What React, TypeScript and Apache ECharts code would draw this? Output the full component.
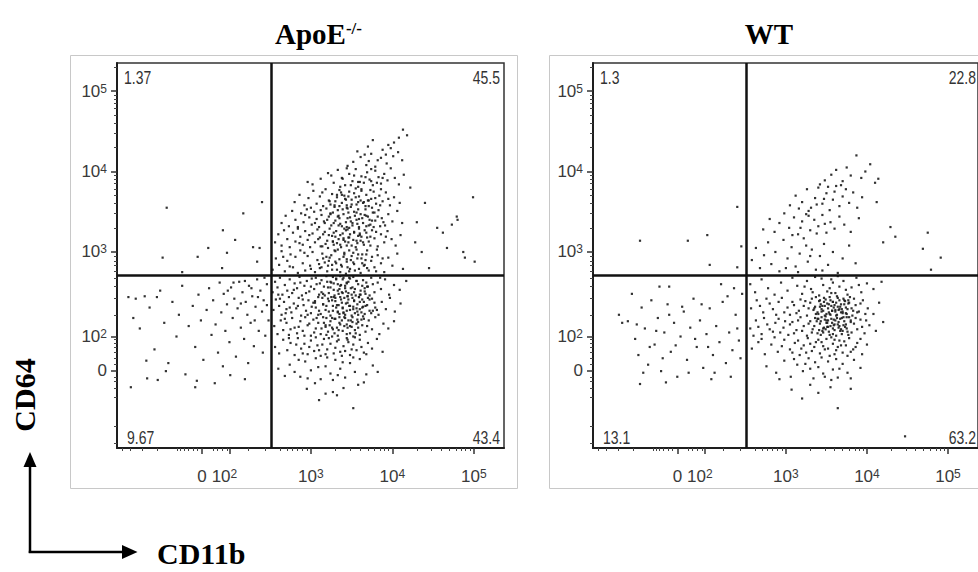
import React, { useEffect, useRef } from "react";
import * as echarts from "echarts";

// ---- axis scale (display units: decades of fluorescence, biexponential near zero) ----
const X_MIN = 0.62;
const X_MAX = 5.37;
const Y_MIN = 0.565;
const Y_MAX = 5.348;

const xTickValues = [1.663, 2, 3, 4, 5];
const xTickLabels = ["0", "10^2", "10^3", "10^4", "10^5"];
const yTickValues = [1.522, 1.944, 3, 4, 5];
const yTickLabels = ["0", "10^2", "10^3", "10^4", "10^5"];
const xMinorTicks = [0.68, 0.78, 0.93, 1.12, 1.36, 1.4, 1.44, 1.49, 1.55, 1.6, 1.8, 1.85, 1.91, 1.97, 2.23, 2.44, 2.62, 2.71, 2.77, 2.83, 2.89, 2.95, 3.3, 3.48, 3.6, 3.7, 3.78, 3.85, 3.9, 3.95, 4.3, 4.48, 4.6, 4.7, 4.78, 4.85, 4.9, 4.95];
const yMinorTicks = [0.63, 0.83, 1.2, 1.31, 1.39, 1.45, 1.6, 1.68, 1.76, 1.82, 1.87, 1.91, 2.22, 2.43, 2.57, 2.68, 2.76, 2.83, 2.89, 2.95, 3.3, 3.48, 3.6, 3.7, 3.78, 3.85, 3.9, 3.95, 4.3, 4.48, 4.6, 4.7, 4.78, 4.85, 4.9, 4.95, 5.3];

// ---- gates (CD11b, CD64) ----
const apoeGate = [2.509, 2.714];
const wtGate = [2.509, 2.714];

// ---- titles / quadrant percentages (UL, UR, LL, LR) ----
const panelTitles = ["ApoE", "WT"];
const apoeQuadPct = ["1.37", "45.5", "9.67", "43.4"];
const wtQuadPct = ["1.3", "22.8", "13.1", "63.2"];
const axisNames = ["CD64", "CD11b"];

// ---- ApoE-/- events (x = CD11b, y = CD64), flat pairs ----
const apoeUL = [1.23,3.55, 2.17,3.48, 2.40,3.62, 1.92,3.27, 2.07,3.15, 1.74,3.05, 1.18,2.93, 1.61,2.94, 1.97,2.99, 2.29,3.06, 2.34,2.88, 2.37,3.05, 1.91,2.80, 1.42,2.75];
const apoeUR = [
  3.76,4.39, 4.13,4.52, 4.08,4.42, 3.95,4.33, 4.02,4.36, 3.70,4.31, 4.18,4.45,
  3.52,4.12, 3.61,4.18, 3.68,4.08, 3.74,4.22, 3.82,4.14, 3.88,4.27, 3.93,4.10, 4.01,4.19, 4.07,4.24, 3.45,4.07, 3.57,4.25, 3.79,4.06, 3.86,4.17, 3.98,4.29, 4.12,4.14, 3.66,4.21, 3.92,4.21, 3.71,4.13,
  3.02,3.84, 3.12,3.91, 3.21,3.98, 3.28,3.86, 3.33,4.02, 3.38,3.92, 3.42,3.83, 3.47,3.97, 3.51,3.88, 3.55,4.03, 3.58,3.81, 3.62,3.94, 3.65,3.86, 3.69,3.99, 3.72,3.90, 3.76,3.83, 3.79,4.01, 3.83,3.93, 3.86,3.85, 3.90,3.97, 3.94,3.89, 3.98,4.04, 4.03,3.92, 4.08,3.84, 4.14,3.96, 3.36,3.81, 3.44,4.04, 3.53,3.95, 3.60,3.87, 3.67,3.93, 3.74,4.03, 3.81,3.86, 3.88,3.92, 3.25,3.95, 2.96,3.87,
  2.80,3.62, 2.86,3.71, 2.92,3.58, 2.97,3.67, 3.03,3.76, 3.07,3.60, 3.11,3.69, 3.15,3.57, 3.18,3.78, 3.22,3.64, 3.26,3.72, 3.29,3.56, 3.32,3.68, 3.35,3.77, 3.38,3.61, 3.41,3.70, 3.44,3.58, 3.47,3.75, 3.50,3.65, 3.53,3.73, 3.56,3.59, 3.59,3.69, 3.62,3.78, 3.65,3.62, 3.68,3.71, 3.71,3.57, 3.74,3.66, 3.77,3.75, 3.80,3.60, 3.84,3.70, 3.88,3.63, 3.92,3.74, 3.97,3.58, 4.02,3.68, 4.09,3.61, 3.30,3.63, 3.37,3.74, 3.43,3.65, 3.49,3.56, 3.55,3.79, 3.61,3.64, 3.67,3.57, 3.73,3.77, 3.79,3.67, 3.86,3.78, 3.24,3.59, 3.14,3.74, 3.46,3.69, 3.58,3.62, 3.70,3.64, 3.95,3.66, 3.00,3.55,
  2.64,3.36, 2.69,3.45, 2.73,3.32, 2.77,3.51, 2.81,3.40, 2.84,3.31, 2.88,3.48, 2.91,3.37, 2.95,3.53, 2.98,3.43, 3.01,3.34, 3.04,3.50, 3.07,3.41, 3.10,3.31, 3.13,3.46, 3.16,3.38, 3.19,3.54, 3.22,3.44, 3.25,3.33, 3.27,3.49, 3.30,3.39, 3.33,3.52, 3.35,3.42, 3.38,3.32, 3.40,3.47, 3.43,3.37, 3.45,3.54, 3.48,3.43, 3.51,3.33, 3.53,3.50, 3.56,3.40, 3.59,3.31, 3.61,3.47, 3.64,3.36, 3.67,3.53, 3.70,3.44, 3.73,3.34, 3.76,3.49, 3.79,3.39, 3.83,3.52, 3.87,3.42, 3.91,3.33, 3.95,3.47, 4.00,3.38, 4.06,3.51, 4.12,3.36, 3.28,3.36, 3.34,3.45, 3.39,3.53, 3.44,3.31, 3.49,3.38, 3.54,3.45, 3.58,3.53, 3.63,3.42, 3.68,3.32, 3.72,3.40, 3.77,3.31, 3.82,3.44, 3.89,3.37, 3.20,3.40, 3.12,3.52, 3.05,3.36, 2.93,3.46, 3.36,3.35, 3.46,3.49, 3.57,3.35, 3.66,3.46, 3.75,3.55, 3.85,3.32, 3.24,3.47,
  2.56,3.12, 2.60,3.22, 2.64,3.08, 2.67,3.27, 2.71,3.16, 2.74,3.06, 2.78,3.24, 2.81,3.13, 2.84,3.29, 2.87,3.19, 2.90,3.09, 2.93,3.26, 2.96,3.15, 2.99,3.06, 3.02,3.23, 3.05,3.12, 3.08,3.28, 3.11,3.18, 3.14,3.07, 3.17,3.25, 3.20,3.14, 3.23,3.29, 3.26,3.20, 3.28,3.09, 3.31,3.26, 3.34,3.16, 3.37,3.06, 3.39,3.23, 3.42,3.13, 3.45,3.28, 3.47,3.18, 3.50,3.08, 3.53,3.25, 3.56,3.14, 3.59,3.29, 3.62,3.19, 3.65,3.09, 3.68,3.24, 3.71,3.13, 3.75,3.27, 3.78,3.17, 3.82,3.07, 3.86,3.22, 3.90,3.12, 3.94,3.26, 3.99,3.16, 4.04,3.08, 4.10,3.21, 3.32,3.11, 3.36,3.21, 3.41,3.29, 3.44,3.08, 3.48,3.22, 3.52,3.15, 3.55,3.06, 3.60,3.23, 3.64,3.12, 3.69,3.18, 3.73,3.08, 3.80,3.25, 3.18,3.10, 3.22,3.21, 3.27,3.13, 3.30,3.19, 3.40,3.17, 3.58,3.20, 3.66,3.27, 3.92,3.19, 2.98,3.21, 3.09,3.16, 3.15,3.22, 2.86,3.11, 3.46,3.12,
  2.53,2.78, 2.57,2.92, 2.61,2.84, 2.64,3.01, 2.68,2.76, 2.71,2.89, 2.75,2.97, 2.78,2.81, 2.81,2.94, 2.84,2.74, 2.87,3.02, 2.90,2.86, 2.93,2.77, 2.96,2.95, 2.99,2.83, 3.02,3.00, 3.05,2.75, 3.08,2.90, 3.11,2.80, 3.14,2.98, 3.17,2.87, 3.20,2.76, 3.23,2.93, 3.26,2.84, 3.29,3.02, 3.32,2.78, 3.35,2.91, 3.38,2.82, 3.41,2.99, 3.44,2.88, 3.47,2.76, 3.50,2.95, 3.53,2.85, 3.56,3.03, 3.59,2.79, 3.62,2.92, 3.65,2.83, 3.68,2.97, 3.71,2.77, 3.74,2.89, 3.78,2.81, 3.82,2.96, 3.86,2.86, 3.90,2.75, 3.95,2.93, 4.00,2.83, 4.06,2.98, 4.13,2.79, 3.25,2.96, 3.30,2.88, 3.36,2.75, 3.40,2.94, 3.45,2.81, 3.49,2.90, 3.54,2.77, 3.58,2.97, 3.63,2.86, 3.69,2.80, 3.75,2.94, 3.33,3.03, 3.21,2.83, 3.15,2.92, 3.00,2.79, 2.92,2.99, 2.74,2.82, 3.43,2.73, 3.52,2.99, 3.61,2.74, 3.67,2.90, 3.80,2.76, 3.88,2.92, 2.66,2.94, 3.10,2.85,
  4.99,3.68, 4.40,3.61, 4.79,3.44, 4.55,3.30, 4.62,3.24, 4.73,3.34, 4.67,3.05, 4.87,3.00, 5.01,2.88, 4.80,3.40, 4.89,2.93, 4.30,3.37, 4.36,3.00, 4.28,3.12, 4.45,2.80, 4.22,3.80,
];
const apoeURCore = [
  3.13,2.81, 3.47,3.02, 3.29,3.58, 3.71,3.33, 3.52,2.87, 3.38,3.71, 3.21,3.05, 3.64,3.61, 3.43,3.27, 3.57,2.92, 3.33,3.44, 3.78,3.49, 3.26,2.78, 3.49,3.83, 3.61,3.14, 3.17,3.36, 3.41,2.97, 3.69,3.02, 3.55,3.68, 3.36,3.09, 3.23,3.63, 3.74,3.88, 3.46,3.18, 3.31,2.86, 3.59,3.41, 3.44,3.55, 3.66,2.84, 3.28,3.24, 3.51,3.36, 3.39,3.91, 3.19,2.94, 3.73,3.19, 3.62,3.76, 3.48,2.79, 3.34,3.33, 3.57,3.11, 3.42,3.66, 3.27,3.13, 3.68,3.45, 3.53,3.24, 3.12,3.07, 3.85,3.58, 3.37,2.84, 3.45,3.42, 3.58,3.87, 3.24,3.48, 3.81,3.03, 3.50,3.59, 3.63,2.97, 3.32,3.71, 3.40,3.15, 3.56,3.49, 3.71,3.64, 3.22,2.89, 3.47,3.30, 3.35,3.57, 3.60,3.21, 3.44,2.91, 3.75,3.39, 3.30,3.01,
];
const apoeLL = [
  0.76,2.44, 0.85,2.42, 0.96,2.45, 1.11,2.44, 0.82,2.18, 0.90,2.05, 1.02,2.31, 1.08,1.79, 1.15,2.52, 1.20,2.12, 1.25,1.62, 1.30,2.38, 1.35,1.95, 1.38,2.22, 1.42,2.58, 1.46,1.48, 1.50,2.08, 1.55,2.33, 1.58,1.82, 1.62,2.47, 1.65,2.15, 1.68,1.66, 1.72,2.28, 1.75,2.55, 1.78,1.97, 1.80,2.40, 1.83,2.10, 1.86,1.75, 1.88,2.62, 1.90,2.25, 1.93,2.48, 1.95,2.02, 1.97,2.35, 2.00,1.88, 2.02,2.56, 2.04,2.18, 2.06,2.42, 2.08,1.70, 2.10,2.30, 2.12,2.63, 2.14,2.06, 2.16,2.50, 2.18,1.92, 2.20,2.38, 2.22,2.22, 2.24,2.58, 2.26,2.12, 2.28,2.45, 2.30,1.83, 2.32,2.32, 2.34,2.66, 2.36,2.02, 2.38,2.52, 2.40,2.26, 2.42,2.40, 2.44,1.96, 2.46,2.60, 2.48,2.15, 2.35,2.44, 2.27,2.55, 2.19,2.64, 2.43,2.68, 2.14,2.36, 2.05,2.62, 1.98,2.52, 2.31,2.15, 2.46,2.34, 0.98,1.65, 1.22,1.52, 1.60,1.40, 1.92,1.58, 2.23,1.62, 2.41,1.75,
  0.79,1.32, 0.99,1.43, 1.12,1.41, 1.58,1.32, 1.82,1.37, 2.19,1.42, 2.01,1.47,
];
const apoeLR = [
  2.53,2.50, 2.56,2.63, 2.59,2.56, 2.62,2.68, 2.65,2.47, 2.68,2.59, 2.71,2.52, 2.74,2.66, 2.77,2.49, 2.80,2.61, 2.83,2.55, 2.86,2.69, 2.89,2.46, 2.92,2.58, 2.95,2.64, 2.98,2.51, 3.01,2.67, 3.04,2.54, 3.07,2.60, 3.10,2.47, 3.13,2.65, 3.16,2.57, 3.19,2.70, 3.22,2.49, 3.25,2.62, 3.28,2.53, 3.31,2.66, 3.34,2.48, 3.37,2.59, 3.40,2.68, 3.43,2.51, 3.46,2.63, 3.49,2.55, 3.52,2.69, 3.55,2.46, 3.58,2.60, 3.61,2.52, 3.64,2.65, 3.67,2.48, 3.70,2.57, 3.74,2.68, 3.78,2.50, 3.82,2.62, 3.86,2.54, 3.91,2.66, 3.96,2.47, 4.02,2.59, 4.09,2.53, 4.17,2.64, 3.24,2.56, 3.29,2.46, 3.33,2.60, 3.36,2.70, 3.39,2.49, 3.42,2.58, 3.45,2.45, 3.48,2.67, 3.51,2.56, 3.56,2.64, 3.60,2.47, 3.63,2.58, 3.68,2.62, 3.72,2.46, 3.76,2.60, 3.15,2.48, 3.11,2.61, 3.06,2.68, 3.00,2.57, 2.94,2.49, 2.87,2.62, 2.79,2.53, 3.20,2.63, 3.27,2.69, 3.35,2.54, 3.44,2.61, 3.53,2.50, 3.66,2.55, 3.85,2.68, 2.60,2.47,
  2.54,2.28, 2.57,2.41, 2.61,2.33, 2.64,2.22, 2.67,2.38, 2.70,2.29, 2.73,2.44, 2.76,2.25, 2.79,2.36, 2.82,2.30, 2.85,2.43, 2.88,2.21, 2.91,2.34, 2.94,2.27, 2.97,2.40, 3.00,2.24, 3.03,2.37, 3.06,2.31, 3.09,2.44, 3.12,2.23, 3.15,2.35, 3.18,2.28, 3.21,2.42, 3.24,2.21, 3.27,2.33, 3.30,2.39, 3.33,2.26, 3.36,2.44, 3.39,2.30, 3.42,2.22, 3.45,2.37, 3.48,2.28, 3.51,2.43, 3.54,2.24, 3.57,2.35, 3.60,2.29, 3.63,2.41, 3.66,2.23, 3.69,2.34, 3.72,2.27, 3.75,2.42, 3.79,2.31, 3.83,2.22, 3.87,2.38, 3.92,2.29, 3.97,2.43, 4.03,2.26, 4.10,2.36, 3.26,2.40, 3.31,2.31, 3.35,2.23, 3.38,2.37, 3.41,2.43, 3.44,2.27, 3.47,2.33, 3.50,2.21, 3.53,2.39, 3.56,2.30, 3.59,2.44, 3.62,2.25, 3.65,2.38, 3.70,2.43, 3.74,2.24, 3.78,2.37, 3.19,2.33, 3.14,2.43, 3.10,2.27, 3.05,2.39, 3.01,2.32, 2.96,2.22, 2.90,2.41, 2.84,2.33, 2.74,2.31, 3.22,2.26, 3.28,2.44, 3.34,2.34, 3.40,2.25, 3.46,2.41, 3.52,2.32, 3.58,2.22, 3.64,2.32, 3.81,2.28, 2.62,2.42, 2.69,2.24,
  2.55,2.08, 2.59,1.98, 2.63,2.15, 2.66,2.03, 2.70,2.12, 2.73,1.97, 2.77,2.18, 2.80,2.06, 2.83,1.99, 2.87,2.14, 2.90,2.02, 2.93,2.19, 2.96,2.09, 3.00,1.96, 3.03,2.16, 3.06,2.05, 3.09,2.12, 3.12,1.98, 3.15,2.19, 3.18,2.07, 3.21,2.01, 3.24,2.14, 3.27,2.04, 3.30,2.17, 3.33,1.96, 3.36,2.10, 3.39,2.02, 3.42,2.18, 3.45,2.06, 3.48,1.99, 3.51,2.13, 3.54,2.03, 3.57,2.16, 3.60,1.97, 3.63,2.09, 3.67,2.01, 3.71,2.15, 3.75,2.04, 3.79,2.19, 3.84,1.98, 3.89,2.11, 3.95,2.05, 4.02,2.14, 3.23,2.09, 3.29,1.99, 3.35,2.19, 3.41,2.08, 3.46,2.15, 3.52,1.95, 3.58,2.06, 3.65,2.17, 3.19,1.97, 3.13,2.05, 3.07,2.18, 2.98,2.11, 2.92,1.96, 2.85,2.07, 2.75,2.04, 3.32,2.06, 3.38,2.15, 3.44,1.98, 3.50,2.07, 3.56,2.11, 3.69,2.08, 3.26,2.18, 3.04,2.00, 2.68,2.17, 3.16,2.12,
  2.56,1.82, 2.61,1.74, 2.66,1.91, 2.71,1.78, 2.75,1.87, 2.80,1.72, 2.84,1.93, 2.88,1.80, 2.92,1.86, 2.96,1.73, 3.00,1.90, 3.04,1.77, 3.08,1.84, 3.12,1.71, 3.16,1.92, 3.20,1.79, 3.24,1.86, 3.28,1.74, 3.32,1.89, 3.36,1.76, 3.40,1.83, 3.44,1.93, 3.48,1.72, 3.52,1.85, 3.56,1.78, 3.60,1.91, 3.65,1.75, 3.70,1.87, 3.75,1.80, 3.81,1.92, 3.88,1.76, 3.22,1.93, 3.30,1.81, 3.38,1.71, 3.46,1.88, 3.54,1.94, 3.62,1.82, 3.14,1.85, 3.06,1.94, 2.98,1.82, 2.90,1.74, 2.82,1.85, 3.34,1.91, 3.42,1.77, 3.18,1.73, 3.26,1.95, 3.50,1.79, 3.68,1.73, 2.73,1.93, 3.10,1.78,
  2.60,1.55, 2.68,1.46, 2.74,1.60, 2.80,1.51, 2.87,1.45, 2.93,1.64, 3.00,1.53, 3.06,1.68, 3.12,1.42, 3.18,1.58, 3.24,1.49, 3.30,1.66, 3.36,1.55, 3.42,1.44, 3.48,1.62, 3.54,1.51, 3.60,1.67, 3.68,1.48, 3.76,1.59, 3.82,1.51, 3.20,1.69, 3.27,1.41, 3.39,1.63, 3.09,1.57, 2.96,1.43, 3.52,1.69, 3.33,1.47, 2.85,1.66,
  3.52,1.06, 3.10,1.16, 3.32,1.22, 3.27,1.26, 3.58,1.35, 2.95,1.30, 3.05,1.37, 3.40,1.31, 3.18,1.24, 3.65,1.38,
];
const apoeLRCore = [
  3.37,2.41, 3.21,2.56, 3.52,2.29, 3.44,2.62, 3.29,2.17, 3.61,2.47, 3.15,2.35, 3.48,2.08, 3.33,2.52, 3.67,2.33, 3.41,2.19, 3.25,2.44, 3.56,2.64, 3.39,2.31, 3.09,2.22, 3.58,2.13, 3.46,2.49, 3.31,2.67, 3.72,2.41, 3.18,2.09, 3.43,2.36, 3.54,2.54, 3.27,2.27, 3.64,2.20, 3.36,2.58, 3.49,2.15, 3.22,2.39, 3.60,2.38, 3.34,2.03, 3.45,2.45, 3.13,2.50, 3.69,2.57, 3.40,2.24, 3.53,2.40, 3.28,2.61, 3.57,2.26, 3.32,2.34, 3.47,2.68, 3.19,2.18, 3.63,2.31, 3.38,2.50, 3.51,2.19, 3.26,2.06, 3.42,2.55, 3.59,2.44, 3.35,2.12, 3.76,2.27, 3.24,2.63, 3.48,2.33, 3.55,1.99, 3.30,2.43, 3.66,2.51, 3.44,2.10, 3.17,2.46, 3.39,2.66, 3.62,2.16, 3.50,2.47, 3.33,2.25, 3.05,2.37, 3.45,1.91,
];

// ---- WT events ----
const wtUL = [1.20,3.14, 1.79,3.14, 2.03,3.21, 2.45,3.07, 2.40,3.56, 2.06,2.84, 2.40,2.81];
const wtUR = [
  3.87,4.20, 4.04,4.09, 4.14,3.91, 3.93,3.92, 3.56,3.96, 4.10,3.86, 3.70,3.88, 3.62,4.02, 3.80,3.95, 3.48,3.89, 3.75,4.05, 3.98,4.00,
  3.05,3.58, 3.12,3.70, 3.20,3.62, 3.26,3.78, 3.31,3.55, 3.36,3.67, 3.40,3.80, 3.45,3.60, 3.50,3.73, 3.54,3.52, 3.58,3.65, 3.62,3.82, 3.66,3.57, 3.70,3.69, 3.74,3.78, 3.78,3.61, 3.83,3.74, 3.88,3.55, 3.94,3.68, 4.12,3.62, 3.42,3.84, 3.28,3.51, 3.47,3.66, 3.60,3.75, 3.16,3.54, 3.38,3.59, 3.52,3.81, 3.68,3.83,
  2.72,3.28, 2.80,3.41, 2.86,3.25, 2.92,3.36, 2.98,3.48, 3.04,3.30, 3.10,3.43, 3.15,3.22, 3.20,3.38, 3.25,3.47, 3.30,3.27, 3.35,3.40, 3.40,3.32, 3.45,3.46, 3.50,3.24, 3.55,3.37, 3.60,3.29, 3.66,3.44, 3.72,3.34, 3.80,3.25, 3.90,3.42, 3.08,3.21, 3.18,3.30, 3.28,3.45, 3.38,3.23, 3.48,3.35, 4.29,3.31, 4.75,3.24,
  2.58,2.90, 2.63,3.05, 2.68,2.80, 2.73,2.96, 2.78,3.12, 2.82,2.85, 2.87,3.00, 2.92,2.76, 2.97,3.15, 3.02,2.92, 3.07,3.06, 3.12,2.82, 3.17,2.98, 3.22,3.17, 3.27,2.88, 3.32,3.03, 3.37,2.78, 3.42,2.95, 3.47,3.10, 3.52,2.84, 3.58,3.00, 3.64,2.74, 3.70,2.92, 3.78,3.08, 3.86,2.86, 4.35,3.19, 4.20,3.12, 4.69,3.04, 4.91,2.93, 4.79,2.78, 3.00,2.80, 3.15,2.75, 3.30,2.95, 3.45,2.77, 3.25,3.08,
];
const wtLL = [
  0.94,2.22, 0.98,2.12, 1.05,2.14, 1.10,2.48, 1.14,1.92, 1.18,1.72, 1.22,2.31, 1.26,2.05, 1.30,1.60, 1.34,2.40, 1.38,1.85, 1.42,2.18, 1.46,1.52, 1.50,2.00, 1.54,2.35, 1.58,1.76, 1.62,2.12, 1.66,1.45, 1.70,1.95, 1.74,2.26, 1.78,1.66, 1.82,2.06, 1.86,2.42, 1.90,1.82, 1.94,2.15, 1.98,1.56, 2.02,1.98, 2.06,2.30, 2.10,1.72, 2.14,2.08, 2.18,1.88, 2.22,2.38, 2.26,1.62, 2.30,2.00, 2.34,1.78, 2.38,2.22, 2.42,1.90, 2.46,2.48, 2.44,1.68, 2.36,2.55, 2.28,2.45, 2.20,2.60, 2.12,1.50, 2.04,1.82, 1.96,2.35, 1.88,1.92, 1.80,1.50, 1.72,2.32, 1.64,1.84, 1.56,2.22, 1.48,1.68, 1.40,2.02, 1.32,1.82, 1.24,1.50, 1.16,2.10, 1.20,1.36, 1.52,1.38, 2.08,1.42, 2.32,1.45, 2.40,2.05, 1.44,2.57, 1.56,2.57,
];
const wtLR = [
  2.56,2.60, 2.62,2.50, 2.70,2.66, 2.78,2.55, 2.86,2.47, 2.94,2.62, 3.02,2.52, 3.08,2.68, 3.14,2.58, 3.20,2.48, 3.26,2.64, 3.31,2.54, 3.36,2.69, 3.41,2.46, 3.46,2.59, 3.51,2.51, 3.56,2.66, 3.61,2.49, 3.66,2.57, 3.71,2.64, 3.76,2.47, 3.81,2.56, 3.87,2.68, 3.93,2.50, 4.00,2.61, 4.08,2.54, 4.18,2.63, 3.44,2.67, 3.54,2.55, 3.64,2.70, 3.74,2.53, 3.33,2.50, 3.23,2.57, 3.58,2.62, 3.90,2.59,
  2.57,2.30, 2.64,2.40, 2.72,2.25, 2.80,2.36, 2.88,2.22, 2.95,2.43, 3.02,2.31, 3.08,2.38, 3.13,2.24, 3.18,2.41, 3.22,2.33, 3.26,2.21, 3.30,2.37, 3.34,2.28, 3.37,2.44, 3.40,2.23, 3.43,2.35, 3.46,2.27, 3.49,2.41, 3.52,2.30, 3.55,2.22, 3.58,2.38, 3.61,2.26, 3.64,2.43, 3.67,2.32, 3.70,2.24, 3.73,2.39, 3.76,2.29, 3.79,2.44, 3.82,2.21, 3.86,2.34, 3.90,2.26, 3.95,2.40, 4.01,2.30, 4.08,2.23, 4.15,2.37, 3.32,2.42, 3.36,2.32, 3.39,2.25, 3.42,2.40, 3.45,2.33, 3.48,2.21, 3.51,2.36, 3.54,2.44, 3.57,2.27, 3.60,2.34, 3.63,2.22, 3.66,2.40, 3.69,2.29, 3.72,2.35, 3.75,2.23, 3.78,2.37, 3.81,2.30, 3.84,2.42, 3.88,2.25, 3.53,2.25, 3.59,2.31, 3.65,2.28, 3.71,2.42, 3.62,2.37, 3.56,2.33, 3.47,2.38, 3.68,2.25, 3.74,2.31, 3.50,2.23, 3.44,2.29, 3.77,2.40, 3.28,2.30, 3.24,2.39, 3.16,2.27, 3.10,2.34, 2.98,2.25, 2.91,2.38, 2.84,2.29, 2.76,2.42, 2.68,2.33, 3.05,2.22, 3.92,2.36, 3.98,2.23,
  2.56,2.05, 2.63,2.15, 2.70,1.98, 2.77,2.10, 2.84,2.01, 2.91,2.17, 2.97,2.06, 3.03,1.97, 3.08,2.13, 3.13,2.03, 3.18,2.19, 3.22,2.08, 3.26,1.96, 3.30,2.14, 3.33,2.04, 3.36,2.18, 3.39,1.99, 3.42,2.11, 3.45,2.02, 3.48,2.16, 3.51,2.07, 3.54,1.97, 3.57,2.12, 3.60,2.03, 3.63,2.18, 3.66,2.08, 3.69,1.98, 3.72,2.14, 3.75,2.05, 3.78,2.19, 3.81,2.00, 3.84,2.11, 3.88,2.04, 3.92,2.16, 3.97,1.99, 4.03,2.09, 4.11,2.02, 4.20,2.13, 3.35,2.08, 3.38,2.14, 3.41,2.03, 3.44,2.19, 3.47,2.06, 3.50,2.12, 3.53,2.01, 3.56,2.17, 3.59,2.09, 3.62,1.96, 3.65,2.13, 3.68,2.04, 3.71,2.19, 3.74,2.10, 3.77,1.97, 3.80,2.15, 3.58,2.05, 3.64,2.10, 3.70,2.02, 3.52,2.15, 3.46,2.00, 3.61,2.15, 3.67,2.17, 3.55,2.08, 3.49,2.04, 3.73,2.07, 3.40,2.17, 3.32,2.00, 3.28,2.11, 3.20,2.02, 3.15,2.15, 3.10,1.99, 3.05,2.10, 2.99,2.14, 2.93,2.00, 2.87,2.12, 2.80,2.04, 2.73,2.18, 2.66,2.07, 2.60,1.96, 3.86,2.18, 3.94,2.07, 3.99,2.15, 3.76,2.01, 3.43,1.97,
  2.58,1.80, 2.66,1.88, 2.74,1.73, 2.82,1.85, 2.90,1.76, 2.98,1.91, 3.05,1.79, 3.11,1.87, 3.17,1.72, 3.22,1.84, 3.27,1.93, 3.32,1.77, 3.37,1.88, 3.42,1.74, 3.46,1.83, 3.50,1.92, 3.54,1.71, 3.58,1.86, 3.62,1.78, 3.66,1.90, 3.70,1.75, 3.74,1.84, 3.78,1.93, 3.83,1.79, 3.88,1.87, 3.94,1.73, 4.00,1.85, 3.40,1.91, 3.48,1.79, 3.56,1.94, 3.64,1.82, 3.72,1.89, 3.30,1.86, 3.25,1.75, 3.60,1.73, 3.68,1.84, 3.44,1.88, 3.52,1.80, 3.35,1.82, 3.15,1.90, 3.08,1.75, 2.95,1.83, 2.86,1.94, 3.80,1.76, 3.92,1.92, 3.19,1.80, 3.76,1.71, 3.60,1.91, 2.70,1.92, 3.86,1.82,
  2.76,1.58, 2.88,1.50, 2.98,1.65, 3.06,1.45, 3.14,1.60, 3.21,1.52, 3.28,1.68, 3.34,1.43, 3.40,1.57, 3.46,1.49, 3.52,1.64, 3.58,1.54, 3.64,1.44, 3.70,1.61, 3.76,1.50, 3.84,1.66, 3.92,1.56, 3.36,1.63, 3.44,1.69, 3.30,1.55, 3.56,1.41, 3.62,1.67, 3.24,1.61, 3.48,1.45, 2.92,1.42, 3.66,1.55, 3.10,1.67, 3.80,1.43,
  3.64,1.06, 3.40,1.25, 3.07,1.29, 3.30,1.35, 3.55,1.32, 3.80,1.30, 3.20,1.18, 4.47,0.71,
];
const wtLRCore = [
  3.62,2.21, 3.48,2.33, 3.71,2.09, 3.55,2.40, 3.39,2.17, 3.66,2.29, 3.58,1.98, 3.44,2.26, 3.77,2.36, 3.51,2.12, 3.63,2.45, 3.35,2.30, 3.69,2.18, 3.57,2.27, 3.46,2.05, 3.74,2.24, 3.53,2.35, 3.60,2.10, 3.41,2.39, 3.67,2.02, 3.49,2.20, 3.80,2.13, 3.56,2.49, 3.64,2.32, 3.43,2.14, 3.72,2.40, 3.59,2.16, 3.37,2.23, 3.68,2.35, 3.52,2.07, 3.61,2.28, 3.47,2.43, 3.75,2.19, 3.54,2.23, 3.65,2.06, 3.42,2.32, 3.70,2.26, 3.58,2.38, 3.50,2.15, 3.83,2.27,
];

// ---- styling ----
const SANS = "'Liberation Sans', Arial, Helvetica, sans-serif";
const SERIF = "'Liberation Serif', 'Times New Roman', Times, serif";
const LABEL_COLOR = "#3a3a3a";
const DOT_COLOR = "#1c1c1c";
const GRID_LEFTS = [117, 593];
const GRID_TOP = 63;
const GRID_W = 387;
const GRID_H = 385;

const pairs = (a: number[]) => {
  const r: number[][] = [];
  for (let i = 0; i + 1 < a.length; i += 2) r.push([a[i], a[i + 1]]);
  return r;
};

const rich = {
  b: { fontSize: 17, fontFamily: SANS, color: LABEL_COLOR },
  s: { fontSize: 12, fontFamily: SANS, color: LABEL_COLOR, verticalAlign: "top" },
  s2: { fontSize: 12, fontFamily: SANS, color: LABEL_COLOR, verticalAlign: "top", padding: [0, 10, 0, 0] },
};

function makeFormatter(values: number[], labels: string[], shiftIdx: number) {
  return (v: number) => {
    let idx = 0;
    let best = Infinity;
    values.forEach((t, i) => {
      const d = Math.abs(t - v);
      if (d < best) { best = d; idx = i; }
    });
    const lab = labels[idx];
    if (lab.indexOf("^") >= 0) {
      const [b, e] = lab.split("^");
      return `{b|${b}}{${idx === shiftIdx ? "s2" : "s"}|${e}}`;
    }
    return `{b|${lab}}`;
  };
}

function buildOption() {
  const grid = GRID_LEFTS.map((left) => ({
    left, top: GRID_TOP, width: GRID_W, height: GRID_H,
    show: true, borderColor: "#333", borderWidth: 1.5, backgroundColor: "transparent",
  }));
  const xAxis: any[] = [];
  const yAxis: any[] = [];
  GRID_LEFTS.forEach((_, g) => {
    xAxis.push({
      type: "value", gridIndex: g, min: X_MIN, max: X_MAX, position: "bottom",
      axisLine: { show: true, onZero: false, lineStyle: { color: "#1e1e1e", width: 2 } },
      axisTick: { show: true, customValues: xTickValues, length: 6, lineStyle: { color: "#333", width: 1.5 } },
      axisLabel: { show: true, customValues: xTickValues, formatter: makeFormatter(xTickValues, xTickLabels, 1), rich, margin: 20 },
      splitLine: { show: false },
    });
    xAxis.push({
      type: "value", gridIndex: g, min: X_MIN, max: X_MAX, position: "bottom",
      axisLine: { show: false, onZero: false },
      axisTick: { show: true, customValues: xMinorTicks, length: 3, lineStyle: { color: "#444", width: 1 } },
      axisLabel: { show: false },
      splitLine: { show: false },
    });
    yAxis.push({
      type: "value", gridIndex: g, min: Y_MIN, max: Y_MAX, position: "left",
      axisLine: { show: true, onZero: false, lineStyle: { color: "#1e1e1e", width: 2 } },
      axisTick: { show: true, customValues: yTickValues, length: 6, lineStyle: { color: "#333", width: 1.5 } },
      axisLabel: { show: true, customValues: yTickValues, formatter: makeFormatter(yTickValues, yTickLabels, -1), rich, margin: 10 },
      splitLine: { show: false },
    });
    yAxis.push({
      type: "value", gridIndex: g, min: Y_MIN, max: Y_MAX, position: "left",
      axisLine: { show: false, onZero: false },
      axisTick: { show: true, customValues: yMinorTicks, length: 3, lineStyle: { color: "#444", width: 1 } },
      axisLabel: { show: false },
      splitLine: { show: false },
    });
  });

  const gateLine = (gate: number[]) => ({
    silent: true,
    symbol: ["none", "none"],
    label: { show: false },
    lineStyle: { color: "#111", width: 2.5, type: "solid" },
    emphasis: { disabled: true },
    data: [{ xAxis: gate[0] }, { yAxis: gate[1] }],
  });

  const dotStyle = { color: DOT_COLOR, opacity: 0.9 };
  const series = [
    {
      type: "scatter", name: "ApoE-/-", xAxisIndex: 0, yAxisIndex: 0,
      symbol: "rect", symbolSize: 2.2, itemStyle: dotStyle,
      data: pairs([...apoeUL, ...apoeUR, ...apoeURCore, ...apoeLL, ...apoeLR, ...apoeLRCore]),
      markLine: gateLine(apoeGate),
      emphasis: { disabled: true },
    },
    {
      type: "scatter", name: "WT", xAxisIndex: 2, yAxisIndex: 2,
      symbol: "rect", symbolSize: 2.2, itemStyle: dotStyle,
      data: pairs([...wtUL, ...wtUR, ...wtLL, ...wtLR, ...wtLRCore]),
      markLine: gateLine(wtGate),
      emphasis: { disabled: true },
    },
  ];

  const quadText = (pct: string[], left: number) => {
    const right = left + GRID_W - 4;
    const l = left + 7;
    const base = { fontSize: 14, fontFamily: SANS, fill: "#333" };
    return [
      { type: "text", x: l, y: 68, scaleY: 1.3, style: { ...base, text: pct[0], align: "left", verticalAlign: "top" } },
      { type: "text", x: right, y: 68, scaleY: 1.3, style: { ...base, text: pct[1], align: "right", verticalAlign: "top" } },
      { type: "text", x: l + 3, y: 428, scaleY: 1.3, style: { ...base, text: pct[2], align: "left", verticalAlign: "top" } },
      { type: "text", x: right, y: 428, scaleY: 1.3, style: { ...base, text: pct[3], align: "right", verticalAlign: "top" } },
    ];
  };

  const graphic: any[] = [
    { type: "rect", shape: { x: 70.5, y: 55.5, width: 447, height: 433 }, style: { fill: "none", stroke: "#c8c8c8", lineWidth: 1 }, z: 0 },
    { type: "rect", shape: { x: 549.5, y: 55.5, width: 440, height: 433 }, style: { fill: "none", stroke: "#c8c8c8", lineWidth: 1 }, z: 0 },
    {
      type: "text", x: 275, y: 34,
      style: {
        text: `{a|${panelTitles[0]}}{s|-/-}`, align: "left", verticalAlign: "middle",
        rich: {
          a: { fontSize: 29, fontWeight: "bold", fontFamily: SERIF, fill: "#000" },
          s: { fontSize: 17, fontWeight: "bold", fontFamily: SERIF, fill: "#000", verticalAlign: "top" },
        },
      },
    },
    { type: "text", x: 769, y: 34, style: { text: panelTitles[1], align: "center", verticalAlign: "middle", fontSize: 29, fontWeight: "bold", fontFamily: SERIF, fill: "#000" } },
    { type: "text", x: 24, y: 395, rotation: Math.PI / 2, style: { text: axisNames[0], align: "center", verticalAlign: "middle", fontSize: 30, fontWeight: "bold", fontFamily: SERIF, fill: "#000" } },
    { type: "text", x: 157, y: 553, style: { text: axisNames[1], align: "left", verticalAlign: "middle", fontSize: 30, fontWeight: "bold", fontFamily: SERIF, fill: "#000" } },
    { type: "line", shape: { x1: 30, y1: 553, x2: 30, y2: 464 }, style: { stroke: "#000", lineWidth: 2.5 } },
    { type: "polygon", shape: { points: [[30, 452], [23.5, 467], [36.5, 467]] }, style: { fill: "#000" } },
    { type: "line", shape: { x1: 28.75, y1: 552, x2: 124, y2: 552 }, style: { stroke: "#000", lineWidth: 2.5 } },
    { type: "polygon", shape: { points: [[137.5, 552], [122, 545], [122, 559]] }, style: { fill: "#000" } },
    ...quadText(apoeQuadPct, GRID_LEFTS[0]),
    ...quadText(wtQuadPct, GRID_LEFTS[1]),
  ];

  return { animation: false, backgroundColor: "#fff", grid, xAxis, yAxis, series, graphic };
}

export default function App() {
  const ref = useRef<HTMLDivElement>(null);
  useEffect(() => {
    if (!ref.current) return;
    const chart = echarts.init(ref.current, undefined, { renderer: "svg" });
    chart.setOption(buildOption() as any);
    return () => chart.dispose();
  }, []);
  return <div ref={ref} style={{ position: "absolute", left: 0, top: 0, width: 978, height: 572 }} />;
}
